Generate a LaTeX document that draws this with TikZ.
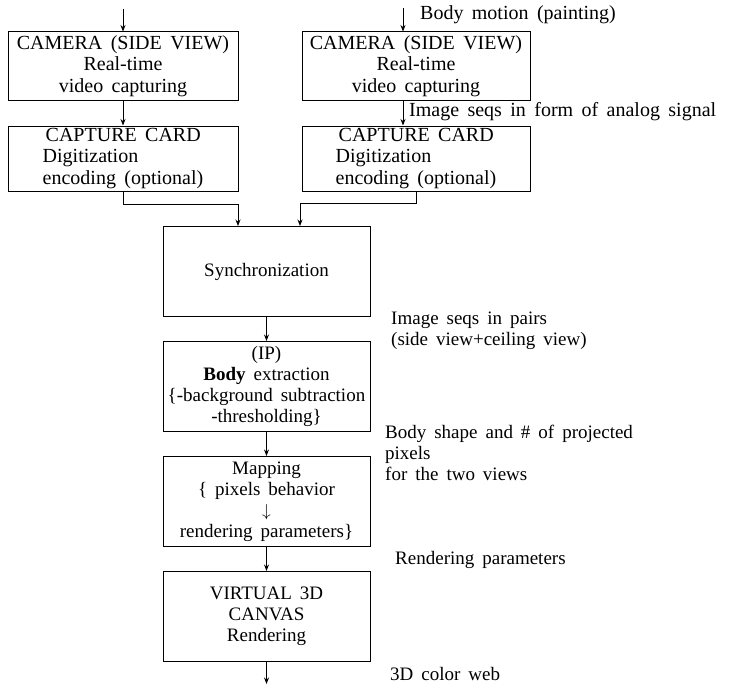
\documentclass[tikz,border=0pt]{standalone}
\usepackage{fontspec}
\setmainfont{Liberation Serif}
\usepackage{tikz}
\usetikzlibrary{arrows.meta, positioning}
\newcommand\diafont{\fontsize{19}{21}\selectfont\spaceskip=0.42em\relax}
\newcommand\camfont{\fontsize{20}{21.5}\selectfont\spaceskip=0.42em\relax}

\begin{document}
\begin{tikzpicture}[
  x=1pt, y=1pt,
  node distance=24pt,
  camerabox/.style={rectangle, draw=black, line width=1pt, font=\camfont,
                    minimum width=230pt, minimum height=68pt, inner sep=1pt, align=center},
  cardbox/.style={camerabox, minimum height=65pt, align=left},
  stagebox/.style={rectangle, draw=black, line width=1pt, font=\diafont,
                   minimum width=207pt, minimum height=90pt, inner sep=1pt, align=center},
  note/.style={font=\diafont, anchor=west, align=left, inner sep=0pt},
  link/.style={draw, line width=0.8pt, -{Stealth[length=6.5pt, width=5pt]}},
]
  \useasboundingbox (0,0) rectangle (730,-685);

  % two camera chains
  \node[camerabox] (camL) at (123,-66) {CAMERA (SIDE VIEW)\\Real-time\\video capturing};
  \node[camerabox, minimum width=228pt] (camR) at (416,-66) {CAMERA (SIDE VIEW)\\Real-time\\video capturing};
  \node[cardbox, below=25pt of camL] (capL) {\hspace{3pt}CAPTURE CARD\\Digitization\\encoding (optional)};
  \node[cardbox, minimum width=228pt, below=25pt of camR] (capR) {\hspace{3pt}CAPTURE CARD\\Digitization\\encoding (optional)};

  % main pipeline
  \node[stagebox] (sync) at (266.5,-271.5) {Synchronization};
  \node[stagebox, below=24pt of sync] (ip) {(IP)\\\textbf{Body} extraction\\\{-background subtraction\\-thresholding\}};
  \node[stagebox, below=24pt of ip] (map) {Mapping\\\{ pixels behavior\\$\big\downarrow$\\rendering parameters\}};
  \node[stagebox, below=24pt of map] (canvas) {VIRTUAL 3D\\CANVAS\\Rendering};

  \coordinate (inL) at (123,-9);
  \coordinate (inR) at (403,-8);
  \coordinate (jL) at (238,-204);
  \coordinate (jR) at (300,-203);
  \coordinate (out) at (266.5,-684);

  % labels
  \node[note, font=\camfont] (motion) at (420,-15) {Body motion (painting)};
  \node[note, font=\camfont] (analog) at (409,-112) {Image seqs in form of analog signal};
  \node[note] (pairs) at (391,-331) {Image seqs in pairs\\(side view+ceiling view)};
  \node[note] (shape) at (385,-453) {Body shape and \# of projected\\pixels\\for the two views};
  \node[note] (render) at (395,-560) {Rendering parameters};
  \node[note] (web) at (390,-674) {3D color web};

  % connectors
  \draw[link] (inL) -- (camL);
  \draw[link] (inR) -- (inR |- camR.north);
  \draw[link] (camL) -- (capL);
  \draw[link] (camR.south -| inR) -- (capR.north -| inR);
  \draw[link] (capL.south) |- (jL) -- (jL |- sync.north);
  \draw[link] (capR.south) |- (jR) -- (jR |- sync.north);
  \draw[link] (sync) -- (ip);
  \draw[link] (ip) -- (map);
  \draw[link] (map) -- (canvas);
  \draw[link] (canvas) -- (out);
\end{tikzpicture}
\end{document}
